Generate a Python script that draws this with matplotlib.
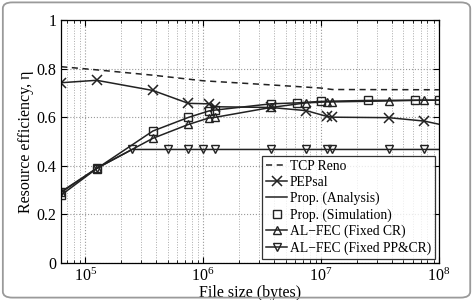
import matplotlib
matplotlib.use("Agg")
import matplotlib.pyplot as plt
from matplotlib.patches import FancyBboxPatch
from matplotlib.ticker import FuncFormatter, LogLocator, NullFormatter

plt.rcParams['font.family'] = ['Liberation Serif', 'DejaVu Serif']
plt.rcParams['mathtext.fontset'] = 'stix'

# TCP Reno (dashed, no markers)
tcp_x = [6.25e4, 1.25e5, 3.75e5, 1e6, 3.75e6, 1e7, 1.25e7, 1e8]
tcp_y = [0.808, 0.795, 0.773, 0.750, 0.733, 0.720, 0.714, 0.713]

# PEPsal (x markers, last point has no marker)
pep_x = [6.25e4, 1.25e5, 3.75e5, 7.5e5, 1.125e6, 1.25e6, 3.75e6, 7.5e6, 1.125e7, 1.25e7, 3.75e7, 7.5e7, 1e8]
pep_y = [0.742, 0.752, 0.710, 0.657, 0.655, 0.643, 0.640, 0.627, 0.603, 0.600, 0.598, 0.584, 0.571]

# Prop. analysis / simulation
prop_x = [6.25e4, 1.25e5, 3.75e5, 7.5e5, 1.125e6, 1.25e6, 3.75e6, 6.25e6, 1e7, 2.5e7, 6.25e7, 1e8]
prop_y = [0.279, 0.388, 0.543, 0.599, 0.626, 0.629, 0.655, 0.659, 0.665, 0.669, 0.670, 0.670]

# AL-FEC (Fixed CR)
cr_x = [6.25e4, 1.25e5, 3.75e5, 7.5e5, 1.125e6, 1.25e6, 3.75e6, 7.5e6, 1.125e7, 1.25e7, 3.75e7, 7.5e7, 1e8]
cr_y = [0.293, 0.389, 0.513, 0.570, 0.597, 0.599, 0.640, 0.659, 0.663, 0.663, 0.667, 0.670, 0.670]

# AL-FEC (Fixed PP&CR)
pp_x = [6.25e4, 1.25e5, 2.5e5, 5e5, 7.5e5, 1e6, 1.25e6, 3.75e6, 7.5e6, 1.125e7, 1.25e7, 3.75e7, 7.5e7, 1e8]
pp_y = [0.290, 0.389, 0.467, 0.467, 0.467, 0.467, 0.467, 0.467, 0.467, 0.467, 0.467, 0.467, 0.467, 0.467]

fig = plt.figure(figsize=(4.74, 3.0), dpi=100)
ax = fig.add_axes([0.129, 0.124, 0.797, 0.809])

lc = '#222222'
ms = 5.5
ax.plot(tcp_x, tcp_y, '--', color=lc, lw=1.1, dashes=(4, 3), label='TCP Reno')
ax.plot(pep_x, pep_y, '-', color=lc, lw=1.1, marker='x', ms=ms + 1, mew=1.1,
        markevery=list(range(len(pep_x) - 1)), label='PEPsal')
ax.plot(prop_x, prop_y, '-', color=lc, lw=1.1, label='Prop. (Analysis)')
ax.plot(prop_x, prop_y, 's', color=lc, mfc='none', ms=ms, mew=1.0, ls='none',
        label='Prop. (Simulation)')
ax.plot(cr_x, cr_y, '-', color=lc, lw=1.1, marker='^', mfc='none', ms=ms + 0.5, mew=1.0,
        markevery=list(range(len(cr_x) - 1)), label='AL\u2212FEC (Fixed CR)')
ax.plot(pp_x, pp_y, '-', color=lc, lw=1.1, marker='v', mfc='none', ms=ms + 0.5, mew=1.0,
        markevery=list(range(len(pp_x) - 1)), label='AL\u2212FEC (Fixed PP&CR)')

ax.set_xscale('log')
ax.set_xlim(6.25e4, 1e8)
ax.set_ylim(0, 1)
ax.set_yticks([0, 0.2, 0.4, 0.6, 0.8, 1])
ax.yaxis.set_major_formatter(FuncFormatter(lambda v, p: '%g' % v))
ax.xaxis.set_major_locator(LogLocator(base=10))
ax.xaxis.set_minor_locator(LogLocator(base=10, subs=range(2, 10)))
ax.xaxis.set_minor_formatter(NullFormatter())

ax.grid(True, which='major', ls=':', color='#999999', lw=0.8)
ax.grid(True, which='minor', axis='x', ls=':', color='#aaaaaa', lw=0.7)
ax.tick_params(which='both', direction='in', top=True, right=True, labelsize=11.5)
ax.tick_params(which='major', length=4)
ax.tick_params(which='minor', length=2)
for s in ax.spines.values():
    s.set_linewidth(0.9)

ax.set_xlabel('File size (bytes)', fontsize=11.5, labelpad=0)
ax.set_ylabel('Resource efficiency, \u03b7', fontsize=11.5, labelpad=2)

leg = ax.legend(loc='lower right', fontsize=9.8, frameon=True, fancybox=False,
                edgecolor='black', borderpad=0.3, labelspacing=0.22,
                handlelength=1.6, handletextpad=0.15, borderaxespad=0.3)
leg.get_frame().set_linewidth(0.9)

frame = FancyBboxPatch((0.006, 0.008), 0.986, 0.984, boxstyle='round,pad=0,rounding_size=0.02',
                       transform=fig.transFigure, fill=False, edgecolor='#9a9a9a', lw=1.3)
fig.patches.append(frame)

fig.savefig('out.png', dpi=100)
